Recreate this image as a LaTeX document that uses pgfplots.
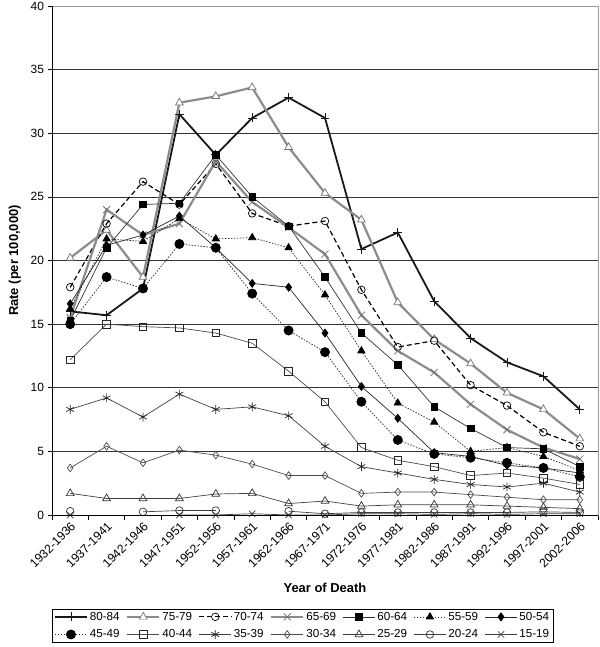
\documentclass[border=0pt]{standalone}
\usepackage{fontspec}
\setmainfont{Liberation Sans}
\usepackage{pgfplots}
\usepackage{pgfplotstable}
\pgfplotsset{compat=1.18}

\pgfplotstableread{
x a80 a75 a70 a65 a60 a55 a50 a45 a40 a35 a30 a25 a20 a15
0 16.0 20.2 17.9 15.5 15.3 16.2 16.6 15.0 12.2 8.3 3.7 1.7 0.30 0
1 15.7 22.4 22.9 24.0 21.0 21.7 21.2 18.7 15.0 9.2 5.4 1.3 nan nan
2 17.8 18.7 26.2 22.0 24.4 21.5 22.0 17.8 14.8 7.7 4.1 1.3 0.25 nan
3 31.5 32.4 24.4 22.9 24.5 23.3 23.5 21.3 14.7 9.5 5.1 1.3 0.35 0
4 28.3 32.9 27.6 27.8 28.3 21.7 21.0 21.0 14.3 8.3 4.7 1.65 0.35 0
5 31.2 33.6 23.7 24.6 25.0 21.8 18.2 17.4 13.5 8.5 4.0 1.7 nan 0.1
6 32.8 28.9 22.7 22.6 22.7 21.0 17.9 14.5 11.3 7.8 3.1 0.9 0.30 0
7 31.2 25.3 23.1 20.5 18.7 17.3 14.3 12.8 8.9 5.4 3.1 1.1 0.10 0
8 20.9 23.2 17.7 15.7 14.3 12.9 10.1 8.9 5.3 3.8 1.7 0.7 0.20 0.1
9 22.2 16.7 13.2 12.9 11.8 8.8 7.6 5.9 4.3 3.3 1.8 0.8 0.20 0.1
10 16.8 13.8 13.7 11.2 8.5 7.3 4.9 4.8 3.8 2.8 1.8 0.8 0.20 0.05
11 13.9 11.9 10.2 8.7 6.8 5.0 4.6 4.5 3.1 2.4 1.6 0.8 0.20 0.1
12 12.0 9.6 8.6 6.7 5.3 5.3 3.9 4.1 3.3 2.2 1.4 0.7 0.20 0.05
13 10.9 8.3 6.5 5.3 5.2 4.6 3.7 3.7 2.9 2.5 1.2 0.6 0.25 0.1
14 8.3 6.0 5.4 4.4 3.8 3.5 3.3 3.0 2.4 1.8 1.2 0.5 0.20 0.1
}\datatable

\begin{document}
\begin{tikzpicture}
\useasboundingbox (-52bp,-132bp) rectangle (548bp,515bp);
\begin{axis}[
  scale only axis,
  width=546bp, height=509bp,
  xmin=-0.5, xmax=14.5,
  ymin=0, ymax=40,
  clip=false,
  unbounded coords=jump,
  xtick={-0.5,0.5,...,14.5},
  x tick label as interval,
  xticklabels={1932-1936,1937-1941,1942-1946,1947-1951,1952-1956,1957-1961,1962-1966,1967-1971,1972-1976,1977-1981,1982-1986,1987-1991,1992-1996,1997-2001,2002-2006},
  xticklabel style={rotate=45, anchor=north east, inner sep=1bp, font=\fontsize{12.3}{14}\selectfont},
  ytick={0,5,...,40},
  yticklabel style={font=\fontsize{12}{14}\selectfont, /pgf/number format/assume math mode=true},
  tick align=outside,
  tick pos=left,
  major tick length=4.5bp,
  every tick/.style={black, line width=0.7pt},
  ymajorgrids,
  grid style={black!80, line width=0.7pt},
  axis line style={draw=black!40, line width=0.7pt},
  xlabel={\textbf{Year of Death}},
  ylabel={\textbf{Rate (per 100,000)}},
  label style={font=\fontsize{13}{15}\selectfont},
  xlabel style={yshift=-9bp},
  ylabel style={yshift=3bp},
  legend columns=7,
  legend style={at={(0.459,-0.184)}, anchor=north, draw=black, line width=0.8pt,
    font=\fontsize{11.7}{13}\selectfont, inner xsep=2bp, inner ysep=1bp,
    /tikz/every odd column/.append style={column sep=0bp},
    /tikz/every even column/.append style={column sep=4.5bp},
    row sep=4bp},
  legend cell align=left,
  legend image code/.code={\draw[mark repeat=2,mark phase=2] plot coordinates {(0bp,0bp) (16bp,0bp) (32bp,0bp)};},
  after end axis/.code={\draw[black, line width=0.8pt] (rel axis cs:0,1) -- (rel axis cs:0,0) -- (rel axis cs:1,0);},
]
% 80-84
\addplot[black!90, line width=1.8pt, mark=+, mark size=4.5pt, mark options={line width=0.8pt, solid}] table[x=x,y=a80] {\datatable};
\addlegendentry{80-84}
% 75-79
\addplot[black!45, line width=2.2pt, mark=triangle*, mark size=4.5pt, mark options={fill=white, draw=black!55, line width=0.7pt, solid}] table[x=x,y=a75] {\datatable};
\addlegendentry{75-79}
% 70-74
\addplot[black, line width=1.2pt, dash pattern=on 5pt off 3pt, mark=o, mark size=3.8pt, mark options={line width=0.7pt, solid, fill=white}] table[x=x,y=a70] {\datatable};
\addlegendentry{70-74}
% 65-69
\addplot[black!45, line width=2.2pt, mark=x, mark size=5pt, mark options={draw=black!55, line width=0.8pt, solid}] table[x=x,y=a65] {\datatable};
\addlegendentry{65-69}
% 60-64
\addplot[black!80, line width=0.7pt, mark=square*, mark size=3.3pt, mark options={fill=black, draw=black, solid}] table[x=x,y=a60] {\datatable};
\addlegendentry{60-64}
% 55-59
\addplot[black!85, line width=0.7pt, dash pattern=on 1.5pt off 1.5pt, mark=triangle*, mark size=4.2pt, mark options={fill=black, draw=black, solid}] table[x=x,y=a55] {\datatable};
\addlegendentry{55-59}
% 50-54
\addplot[black!85, line width=0.7pt, mark=diamond*, mark size=4pt, mark options={fill=black, draw=black, solid}] table[x=x,y=a50] {\datatable};
\addlegendentry{50-54}
% 45-49
\addplot[black!85, line width=0.7pt, dash pattern=on 1.5pt off 1.5pt, mark=*, mark size=4.6pt, mark options={fill=black, draw=black, solid}] table[x=x,y=a45] {\datatable};
\addlegendentry{45-49}
% 40-44
\addplot[black!70, line width=0.7pt, mark=square, mark size=3.8pt, mark options={fill=white, draw=black!85, solid}] table[x=x,y=a40] {\datatable};
\addlegendentry{40-44}
% 35-39
\addplot[black!75, line width=0.7pt, mark=asterisk, mark size=4.5pt, mark options={draw=black!85, solid}] table[x=x,y=a35] {\datatable};
\addlegendentry{35-39}
% 30-34
\addplot[black!70, line width=0.7pt, mark=diamond, mark size=3.8pt, mark options={fill=white, draw=black!70, solid}] table[x=x,y=a30] {\datatable};
\addlegendentry{30-34}
% 25-29
\addplot[black!75, line width=0.7pt, mark=triangle, mark size=4.5pt, mark options={fill=white, draw=black!80, solid}] table[x=x,y=a25] {\datatable};
\addlegendentry{25-29}
% 20-24
\addplot[black!75, line width=0.7pt, mark=o, mark size=3.8pt, mark options={fill=white, draw=black!80, solid}] table[x=x,y=a20] {\datatable};
\addlegendentry{20-24}
% 15-19
\addplot[black!75, line width=0.7pt, mark=x, mark size=4.5pt, mark options={draw=black!75, solid}] table[x=x,y=a15] {\datatable};
\addlegendentry{15-19}
\end{axis}
\end{tikzpicture}
\end{document}
